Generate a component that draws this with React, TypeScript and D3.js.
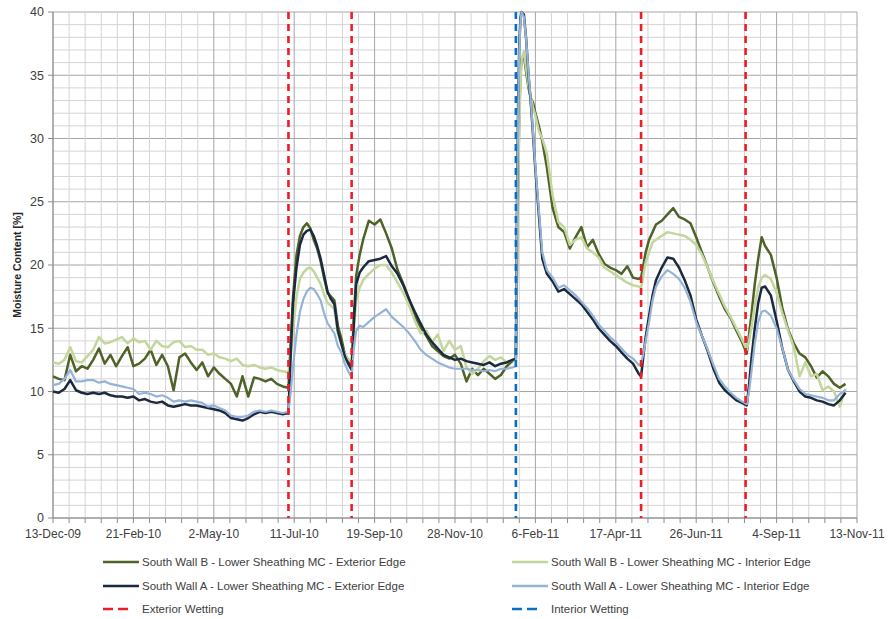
import React from "react";
import * as d3 from "d3";

// ---------- data ----------
const xTickLabels = ["13-Dec-09", "21-Feb-10", "2-May-10", "11-Jul-10", "19-Sep-10", "28-Nov-10", "6-Feb-11", "17-Apr-11", "26-Jun-11", "4-Sep-11", "13-Nov-11"];
const yTicks = [0, 5, 10, 15, 20, 25, 30, 35, 40];

// day offsets from 13-Dec-09
const dayOffsets = [
  0, 5, 10, 15, 20, 25, 30, 35, 40, 45, 50, 55, 60, 65, 70, 75, 80, 85, 90, 95, 100, 105, 110, 115, 120, 125, 130, 135, 140, 145, 150, 155, 160, 165, 170, 175, 180, 185, 190, 195, 200, 205,
  207, 209, 212, 215, 218, 221, 224, 227, 230, 233, 236, 239, 242, 245, 248, 251, 254, 257, 260,
  262, 264, 267, 270, 275, 280, 285, 290, 295, 300, 305, 310, 315, 320, 325, 330, 335, 340, 345, 350, 355, 360, 365, 370, 375, 380, 385, 390, 395, 400, 403,
  404, 405, 406, 407, 408, 410, 412, 414, 416, 418, 420, 423, 426, 430, 435, 440, 445, 450, 455, 460, 465, 470, 475, 480, 485, 490, 495, 500, 505, 510, 512,
  514, 516, 519, 522, 525, 530, 535, 540, 545, 550, 555, 560, 565, 570, 575, 580, 585, 590, 595, 600, 604,
  606, 608, 611, 614, 617, 620, 625, 630, 635, 640, 645, 650, 655, 660, 665, 670, 675, 680, 685, 690,
];

const southWallBExterior = [
  11.2, 11.0, 10.9, 12.9, 11.6, 12.0, 11.8, 12.5, 13.4, 12.2, 12.9, 12.0, 12.8, 13.5, 12.0, 12.2, 12.6, 13.3, 12.1, 12.9, 12.0, 10.1, 12.7, 13.0, 12.3, 11.7, 12.3, 11.2, 11.9, 11.4, 11.0, 10.6, 9.6, 11.2, 9.6, 11.1, 11.0, 10.8, 11.0, 10.6, 10.4, 10.3,
  14.0, 17.5, 20.8, 22.3, 23.0, 23.3, 22.9, 22.0, 21.3, 20.3, 19.0, 17.8, 17.5, 17.2, 15.2, 14.2, 13.0, 12.4, 11.9,
  16.0, 19.2, 20.8, 22.0, 23.5, 23.2, 23.6, 22.5, 21.3, 19.6, 18.5, 17.3, 16.0, 15.1, 14.4, 13.6, 13.2, 12.8, 12.6, 12.9, 12.2, 10.8, 11.8, 11.3, 11.8, 11.4, 11.0, 11.3, 12.0, 12.4, 12.6,
  20.0, 27.0, 32.0, 35.0, 36.3, 36.6, 35.2, 34.0, 33.2, 32.8, 32.0, 31.0, 29.8, 27.7, 24.5, 23.0, 22.6, 21.3, 22.2, 23.0, 21.4, 22.0, 20.9, 20.1, 19.8, 19.6, 19.3, 19.9, 19.0, 18.9, 19.0,
  20.0, 21.0, 22.0, 22.6, 23.2, 23.5, 24.0, 24.5, 23.8, 23.6, 23.3, 22.2, 21.0, 19.8, 18.6, 17.5, 16.5, 15.8, 14.8, 13.9, 13.0,
  14.5, 16.0, 18.5, 20.5, 22.2, 21.5, 20.8, 19.0, 16.6, 14.9, 13.8, 13.0, 12.7, 12.0, 11.1, 11.6, 11.2, 10.6, 10.3, 10.6,
];

const southWallBInterior = [
  12.3, 12.2, 12.5, 13.5, 12.4, 12.3, 12.8, 13.3, 14.3, 13.8, 13.9, 14.1, 14.3, 13.8, 14.2, 13.9, 14.0, 13.3, 14.0, 13.6, 13.5, 13.9, 14.0, 13.5, 13.6, 13.3, 13.3, 12.9, 13.0, 12.7, 12.6, 12.4, 12.6, 12.1, 12.0, 12.1, 11.9, 11.8, 11.9, 11.7, 11.6, 11.5,
  13.0, 14.8, 17.5, 18.9, 19.4, 19.7, 19.8, 19.5, 19.0, 18.5, 17.7, 17.0, 16.8, 16.5, 14.6, 13.7, 13.0, 12.6, 12.3,
  15.0, 17.2, 18.2, 18.8, 19.3, 19.7, 20.0, 20.0, 19.4, 18.6, 17.8, 16.8, 15.6, 14.6, 14.8, 13.9, 14.5, 13.2, 14.0, 13.3, 13.6, 11.9, 11.4, 11.8, 12.4, 12.8, 12.5, 12.7, 12.3, 12.5, 12.4,
  19.0, 26.0, 31.0, 34.5, 36.3, 36.9, 35.5, 34.2, 33.3, 32.4, 31.8, 30.6, 30.0, 28.8, 25.5, 23.4, 23.0, 21.6, 22.0, 22.2, 21.3, 21.0, 20.6, 19.8, 19.5, 19.2, 18.9, 18.6, 18.4, 18.3, 18.2,
  19.2, 20.2, 21.0, 21.8, 22.0, 22.3, 22.6, 22.5, 22.4, 22.3, 22.0, 21.6, 20.8, 19.8, 18.7, 17.7, 16.7, 15.9, 15.0, 14.1, 13.3,
  14.0, 15.0, 16.8, 18.2, 19.0, 19.2, 18.9, 17.8, 16.2, 14.8, 13.5, 11.2, 12.3, 11.2, 11.4, 10.1, 10.4, 10.0, 8.8, 10.2,
];

const southWallAExterior = [
  10.0, 9.9, 10.2, 10.9, 10.1, 9.9, 9.8, 9.9, 9.8, 9.9, 9.7, 9.6, 9.6, 9.5, 9.6, 9.3, 9.4, 9.2, 9.1, 9.2, 8.9, 8.8, 8.9, 9.0, 8.9, 8.9, 8.8, 8.7, 8.6, 8.5, 8.3, 7.9, 7.8, 7.7, 7.9, 8.2, 8.4, 8.3, 8.4, 8.3, 8.2, 8.3,
  13.0, 17.0, 19.8, 21.6, 22.4, 22.7, 22.8, 22.3, 21.5, 20.5, 19.2, 17.9, 17.3, 16.9, 14.8, 13.8, 12.8, 12.2, 11.7,
  15.5, 18.5, 19.4, 19.8, 20.3, 20.4, 20.5, 20.7, 19.9, 19.3, 18.4, 17.3, 16.3, 15.4, 14.5, 13.9, 13.4, 12.9, 12.7, 12.5, 12.6, 12.4, 12.3, 12.2, 12.1, 12.3, 12.0, 12.2, 12.3, 12.5, 12.6,
  25.0, 33.0, 37.5, 39.5, 40.0, 39.8, 37.8, 35.0, 32.8, 30.2, 27.5, 24.0, 20.5, 19.3, 18.7, 17.9, 18.1, 17.7, 17.3, 16.9, 16.3, 15.7, 15.0, 14.5, 14.0, 13.6, 13.1, 12.6, 12.2, 11.4, 11.2,
  12.8, 14.3, 16.0, 17.6, 18.8, 19.8, 20.6, 20.5, 19.8, 18.8, 17.6, 15.7, 14.4, 13.2, 11.8, 10.7, 10.1, 9.7, 9.3, 9.1, 8.9,
  10.5, 12.5, 15.0, 17.0, 18.2, 18.3, 17.6, 15.6, 13.4, 11.7, 10.8, 10.0, 9.6, 9.5, 9.3, 9.2, 9.0, 8.9, 9.3, 9.9,
];

const southWallAInterior = [
  10.5, 10.6, 11.0, 11.7, 10.8, 10.8, 10.9, 10.9, 10.7, 10.8, 10.6, 10.5, 10.4, 10.3, 10.2, 9.8, 9.9, 9.8, 9.6, 9.7, 9.5, 9.2, 9.3, 9.2, 9.3, 9.2, 9.1, 8.8, 8.9, 8.7, 8.5, 8.1, 8.0, 8.0, 8.1, 8.4, 8.5, 8.4, 8.5, 8.4, 8.3, 8.4,
  10.0, 12.0, 14.5, 16.3, 17.3, 17.9, 18.2, 18.1, 17.7, 17.2, 16.2, 15.4, 15.0, 14.6, 13.6, 13.1, 12.2, 11.6, 11.1,
  13.5, 14.8, 15.2, 15.1, 15.5, 15.9, 16.2, 16.5, 15.9, 15.5, 15.1, 14.6, 14.0, 13.3, 12.9, 12.6, 12.3, 12.1, 11.9, 11.8, 11.8, 11.8, 11.7, 11.7, 11.6, 11.7, 11.6, 11.8, 11.8, 11.9, 12.0,
  24.0, 32.0, 37.0, 39.3, 40.0, 39.6, 37.8, 35.2, 33.0, 30.4, 27.8, 24.4, 21.0, 19.6, 19.0, 18.2, 18.4, 18.0, 17.6, 17.1, 16.6, 16.0, 15.3, 14.8, 14.3, 13.9, 13.4, 12.9, 12.6, 12.1, 12.2,
  13.0, 14.0, 15.5, 17.2, 18.3, 19.1, 19.6, 19.3, 18.9, 18.2, 17.1, 15.5, 14.4, 13.3, 12.1, 11.0, 10.4, 9.9, 9.5, 9.2, 9.0,
  10.0, 11.5, 13.8, 15.5, 16.3, 16.4, 16.0, 15.0, 13.4, 11.7, 10.9, 10.2, 9.8, 9.7, 9.6, 9.5, 9.3, 9.3, 9.8, 10.1,
];

const exteriorWetting = ["6-Jul-10", "30-Aug-10", "9-May-11", "8-Aug-11"];
const interiorWetting = ["20-Jan-11"];

const seriesNames = [
  "South Wall B - Lower Sheathing MC - Exterior Edge",
  "South Wall B - Lower Sheathing MC - Interior Edge",
  "South Wall A - Lower Sheathing MC - Exterior Edge",
  "South Wall A - Lower Sheathing MC - Interior Edge",
];
const seriesColors = ["#4f6228", "#c3d69b", "#1b2a3f", "#95b3d7"];

// ---------- chart ----------
const FONT = "'Liberation Sans Narrow', 'Arial Narrow', 'Liberation Sans', sans-serif";

export default function App() {
  const parse = d3.utcParse("%d-%b-%y");
  const start = parse(xTickLabels[0]) as Date;
  const end = parse(xTickLabels[xTickLabels.length - 1]) as Date;
  const L = 53, R = 857, T = 12, B = 518;
  const x = d3.scaleUtc().domain([start, end]).range([L, R]);
  const y = d3.scaleLinear().domain([0, 40]).range([B, T]);
  const totalDays = d3.utcDay.count(start, end);

  const minorDays = d3.range(0, totalDays + 1, 14);
  const minorY = d3.range(0, 41, 1);
  const tickDates = xTickLabels.map((s) => parse(s) as Date);

  const allSeries = [southWallBExterior, southWallBInterior, southWallAExterior, southWallAInterior];
  const line = d3
    .line<[Date, number]>()
    .x((d) => x(d[0]))
    .y((d) => y(d[1]));
  const paths = allSeries.map((vals) =>
    line(dayOffsets.map((d, i) => [d3.utcDay.offset(start, d), vals[i]] as [Date, number])) as string
  );

  const legend = [
    { label: seriesNames[0], color: seriesColors[0], dash: false, lx: 103, ly: 562 },
    { label: seriesNames[1], color: seriesColors[1], dash: false, lx: 512, ly: 562 },
    { label: seriesNames[2], color: seriesColors[2], dash: false, lx: 103, ly: 586 },
    { label: seriesNames[3], color: seriesColors[3], dash: false, lx: 512, ly: 586 },
    { label: "Exterior Wetting", color: "#ee1c25", dash: true, lx: 103, ly: 609 },
    { label: "Interior Wetting", color: "#0a6fc2", dash: true, lx: 512, ly: 609 },
  ];

  return (
    <svg
      width={888}
      height={619}
      style={{ position: "absolute", left: 0, top: 0, background: "#fff" }}
      fontFamily={FONT}
    >
      <rect x={0} y={0} width={888} height={619} fill="#fff" />
      {/* grid */}
      {minorY.map((v) => (
        <line key={"hy" + v} x1={L} x2={R} y1={y(v)} y2={y(v)} stroke={v % 5 === 0 ? "#a6a6a6" : "#d4d4d4"} strokeWidth={1} />
      ))}
      {minorDays.map((d) => {
        const xx = x(d3.utcDay.offset(start, d));
        return (
          <line key={"vx" + d} x1={xx} x2={xx} y1={T} y2={B} stroke={d % 70 === 0 ? "#a6a6a6" : "#d4d4d4"} strokeWidth={1} />
        );
      })}
      {/* axes */}
      <line x1={L} x2={L} y1={T} y2={B} stroke="#8c8c8c" />
      <line x1={L} x2={R} y1={B} y2={B} stroke="#8c8c8c" />
      {yTicks.map((v) => (
        <g key={"yt" + v}>
          <line x1={L - 5} x2={L} y1={y(v)} y2={y(v)} stroke="#8c8c8c" />
          <text x={44} y={y(v)} dy="0.35em" textAnchor="end" fontSize={12.5} fill="#404040">
            {v}
          </text>
        </g>
      ))}
      {minorDays.map((d) => {
        const xx = x(d3.utcDay.offset(start, d));
        return <line key={"xt" + d} x1={xx} x2={xx} y1={B} y2={B + 5} stroke="#8c8c8c" />;
      })}
      {tickDates.map((dt, i) => (
        <text key={"xl" + i} x={x(dt)} y={538} textAnchor="middle" fontSize={12} fill="#404040">
          {xTickLabels[i]}
        </text>
      ))}
      <text
        transform={`translate(21,265) rotate(-90)`}
        textAnchor="middle"
        fontSize={10.5}
        fontWeight="bold"
        fill="#262626"
      >
        Moisture Content [%]
      </text>

      {/* data lines */}
      {paths.map((p, i) => (
        <path key={"s" + i} d={p} fill="none" stroke={seriesColors[i]} strokeWidth={i === 3 ? 2.2 : 2.5} strokeLinejoin="round" />
      ))}

      {/* wetting events */}
      {exteriorWetting.map((s) => {
        const xx = x(parse(s) as Date);
        return <line key={"ew" + s} x1={xx} x2={xx} y1={T} y2={B} stroke="#ee1c25" strokeWidth={2.6} strokeDasharray="7,5" />;
      })}
      {interiorWetting.map((s) => {
        const xx = x(parse(s) as Date);
        return <line key={"iw" + s} x1={xx} x2={xx} y1={T} y2={B} stroke="#0a6fc2" strokeWidth={2.6} strokeDasharray="7,5" />;
      })}

      {/* legend */}
      {legend.map((it, i) => (
        <g key={"lg" + i}>
          {it.dash ? (
            <line x1={it.lx} x2={it.lx + 25} y1={it.ly} y2={it.ly} stroke={it.color} strokeWidth={2.6} strokeDasharray="10,5" />
          ) : (
            <line x1={it.lx} x2={it.lx + 36} y1={it.ly} y2={it.ly} stroke={it.color} strokeWidth={2.6} />
          )}
          <text x={it.lx + 39} y={it.ly} dy="0.35em" fontSize={11.5} fill="#404040">
            {it.label}
          </text>
        </g>
      ))}
    </svg>
  );
}
